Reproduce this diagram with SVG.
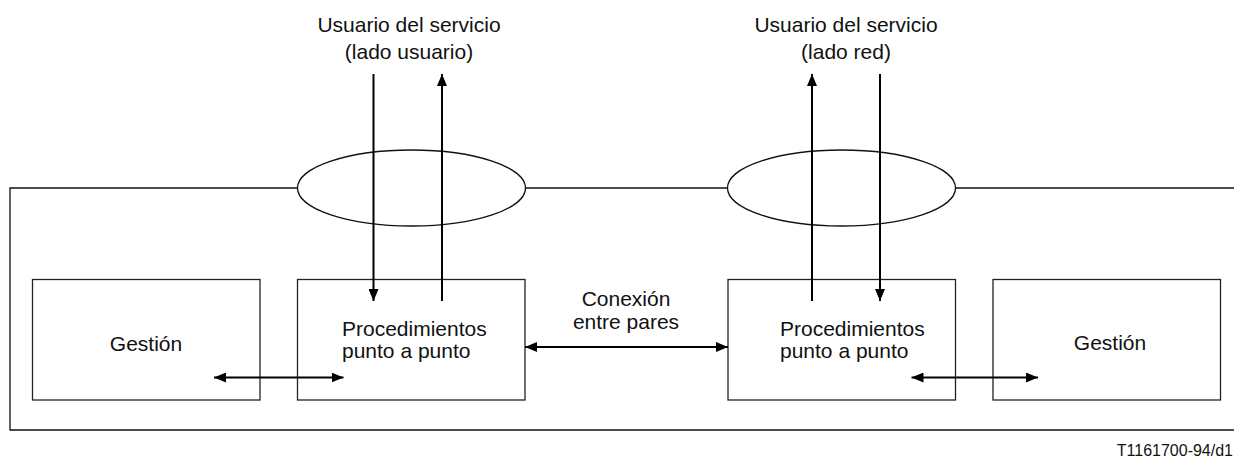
<svg xmlns="http://www.w3.org/2000/svg" width="1234" height="459" viewBox="0 0 1234 459">
<style>
.box{fill:#fff;stroke:#222;stroke-width:1.3}
.frame{fill:none;stroke:#111;stroke-width:1.3}
.ell{fill:#fff;stroke:#111;stroke-width:1.3}
.con{fill:none;stroke:#000;stroke-width:2}
text{font-family:"Liberation Sans",Arial,sans-serif;font-size:21px;fill:#111}
.mid{text-anchor:middle}
.small{font-size:16px;text-anchor:end}
</style>
<defs>
<marker id="ah" viewBox="0 0 12 10" refX="12" refY="5" markerWidth="12" markerHeight="10" markerUnits="userSpaceOnUse" orient="auto-start-reverse">
<path d="M0,0 L12,5 L0,10 Z" fill="#000"/>
</marker>
</defs>
<g id="frame">
<path class="frame" d="M1234,188 H10 V430 H1234"/>
<ellipse class="ell" cx="411.5" cy="188" rx="114" ry="38"/>
<ellipse class="ell" cx="841.5" cy="188" rx="114" ry="38"/>
</g>
<g id="gestion-left">
<rect class="box" x="32.5" y="279.5" width="227.5" height="120.5"/>
<text class="mid" x="146" y="351">Gestión</text>
</g>
<g id="proc-left">
<rect class="box" x="297.5" y="279.5" width="227.5" height="120.5"/>
<text x="342" y="336">Procedimientos</text>
<text x="342" y="358">punto a punto</text>
</g>
<g id="proc-right">
<rect class="box" x="728" y="279.5" width="227.5" height="120.5"/>
<text x="780" y="336">Procedimientos</text>
<text x="780" y="358">punto a punto</text>
</g>
<g id="gestion-right">
<rect class="box" x="993" y="279.5" width="227.5" height="120.5"/>
<text class="mid" x="1110" y="350">Gestión</text>
</g>
<g id="user-left">
<text class="mid" x="409" y="32">Usuario del servicio</text>
<text class="mid" x="409" y="59">(lado usuario)</text>
</g>
<g id="user-right">
<text class="mid" x="846" y="32">Usuario del servicio</text>
<text class="mid" x="846" y="59">(lado red)</text>
</g>
<g id="peer-label">
<text class="mid" x="626" y="306">Conexión</text>
<text class="mid" x="626" y="329">entre pares</text>
</g>
<g id="connectors">
<line class="con" x1="373.5" y1="74" x2="373.5" y2="301" marker-end="url(#ah)"/>
<line class="con" x1="442" y1="301" x2="442" y2="74" marker-end="url(#ah)"/>
<line class="con" x1="812" y1="301" x2="812" y2="74" marker-end="url(#ah)"/>
<line class="con" x1="880" y1="74" x2="880" y2="301" marker-end="url(#ah)"/>
<line class="con" x1="525" y1="347" x2="728" y2="347" marker-start="url(#ah)" marker-end="url(#ah)"/>
<line class="con" x1="214" y1="377.5" x2="343.5" y2="377.5" marker-start="url(#ah)" marker-end="url(#ah)"/>
<line class="con" x1="911.5" y1="377.5" x2="1038" y2="377.5" marker-start="url(#ah)" marker-end="url(#ah)"/>
</g>
<text class="small" x="1233" y="456">T1161700-94/d1</text>
</svg>
